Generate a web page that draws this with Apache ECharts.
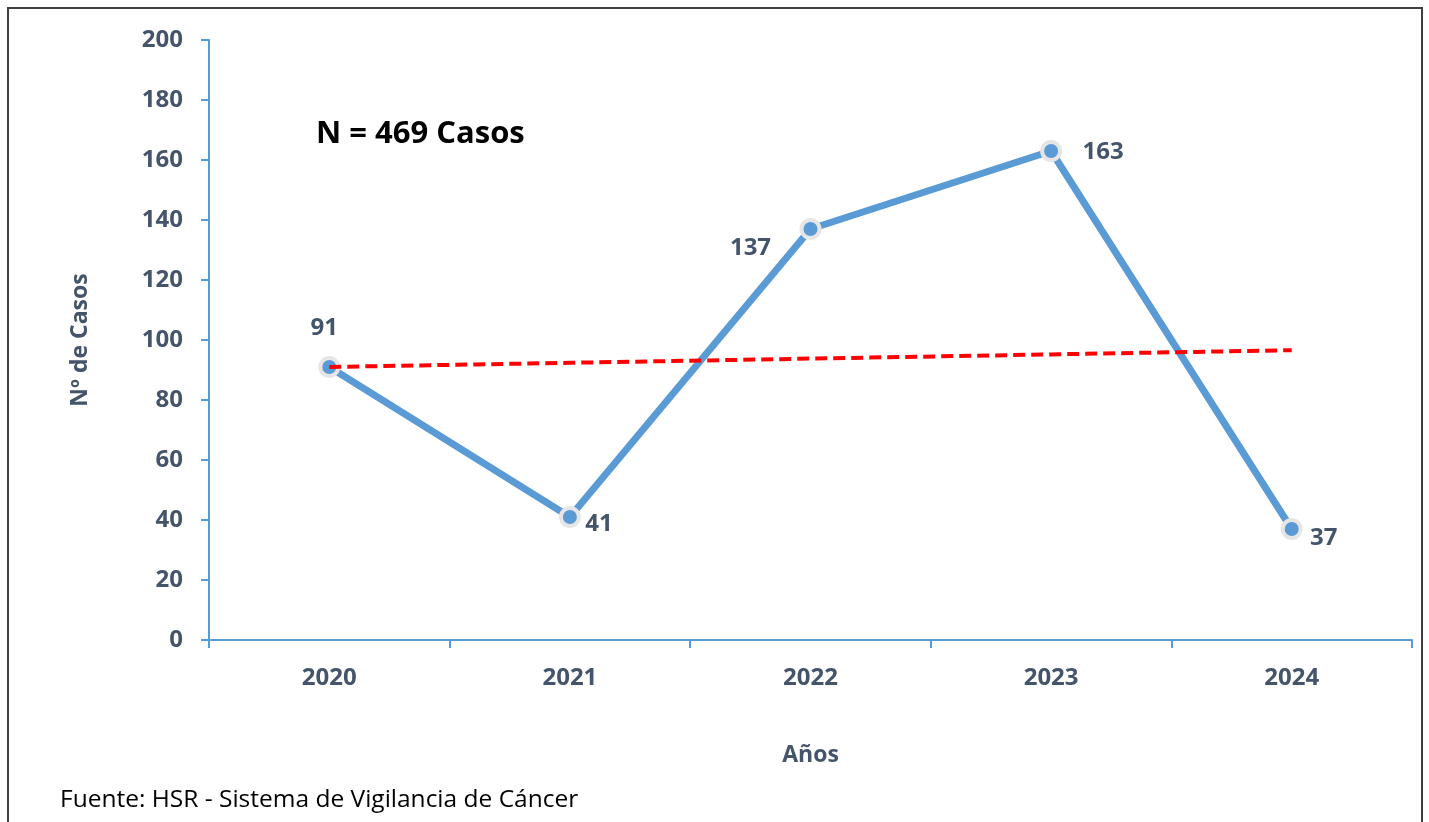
<!DOCTYPE html>
<html>
<head>
<meta charset="utf-8">
<script src="https://cdn.jsdelivr.net/npm/echarts@6/dist/echarts.min.js"></script>
<style>
  html, body { margin: 0; padding: 0; background: #fff; }
  #chart { width: 1429px; height: 822px; }
</style>
</head>
<body>
<div id="chart"></div>
<script>
// Casos anuales y línea de tendencia
const years = ['2020', '2021', '2022', '2023', '2024'];
const casos = [91, 41, 137, 163, 37];
const tendencia = [91.0, 92.4, 93.8, 95.2, 96.6];
const yTicks = [0, 20, 40, 60, 80, 100, 120, 140, 160, 180, 200];

// where each value label sits around its marker
const labelOffsets = [[-5, -39], [29, 7], [-60, 19], [52, 1], [32, 9]];

const axisBlue = '#5B9BD5';
const textSlate = '#44546A';
const fontFam = '"Open Sans", "Noto Sans", sans-serif';

const chart = echarts.init(document.getElementById('chart'), null, { renderer: 'canvas' });

chart.setOption({
  animation: false,
  backgroundColor: '#ffffff',
  grid: { left: 209, right: 17, top: 40, bottom: 182, containLabel: false },
  xAxis: {
    type: 'category',
    data: years,
    boundaryGap: true,
    name: 'Años',
    nameLocation: 'middle',
    nameGap: 104,
    nameTextStyle: { color: textSlate, fontFamily: fontFam, fontWeight: 'bold', fontSize: 23 },
    axisLine: { lineStyle: { color: axisBlue, width: 2 } },
    axisTick: { show: true, length: 8, lineStyle: { color: axisBlue, width: 2 } },
    axisLabel: { color: textSlate, fontFamily: fontFam, fontWeight: 'bold', fontSize: 24, margin: 26 },
    splitLine: { show: false }
  },
  yAxis: {
    type: 'value',
    min: yTicks[0],
    max: yTicks[yTicks.length - 1],
    interval: 20,
    name: 'Nº de Casos',
    nameLocation: 'middle',
    nameGap: 117,
    nameRotate: 90,
    nameTextStyle: { color: textSlate, fontFamily: fontFam, fontWeight: 'bold', fontSize: 23 },
    axisLine: { show: true, lineStyle: { color: axisBlue, width: 2 } },
    axisTick: { show: true, length: 8, lineStyle: { color: axisBlue, width: 2 } },
    axisLabel: { color: textSlate, fontFamily: fontFam, fontWeight: 'bold', fontSize: 24, margin: 26 },
    splitLine: { show: false }
  },
  series: [
    {
      name: 'Casos',
      type: 'line',
      data: casos.map((v, i) => ({
        value: v,
        label: { position: 'inside', offset: labelOffsets[i] }
      })),
      lineStyle: { color: axisBlue, width: 7 },
      symbol: 'circle',
      symbolSize: 18,
      itemStyle: { color: axisBlue, borderColor: '#E6E6E6', borderWidth: 4 },
      label: {
        show: true,
        color: textSlate,
        fontFamily: fontFam,
        fontWeight: 'bold',
        fontSize: 24
      },
      z: 2
    },
    {
      name: 'Tendencia',
      type: 'line',
      data: tendencia,
      symbol: 'none',
      lineStyle: { color: '#FF0000', width: 4, type: [12, 6] },
      z: 3
    }
  ],
  graphic: [
    {
      type: 'rect',
      shape: { x: 8, y: 8, width: 1414, height: 830 },
      style: { fill: 'none', stroke: '#404040', lineWidth: 2 },
      silent: true
    },
    {
      type: 'text',
      left: 316,
      top: 119,
      style: {
        text: 'N = 469 Casos',
        fill: '#000000',
        font: 'bold 31px ' + fontFam
      }
    },
    {
      type: 'text',
      left: 60,
      top: 788,
      style: {
        text: 'Fuente: HSR - Sistema de Vigilancia de Cáncer',
        fill: '#000000',
        font: '24.5px ' + fontFam
      }
    }
  ]
});
</script>
</body>
</html>
